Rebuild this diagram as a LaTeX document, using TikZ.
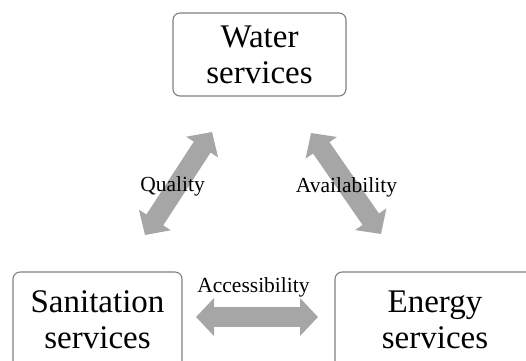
\documentclass[tikz,border=0pt]{standalone}
\usepackage{fontspec}
\setmainfont{Liberation Serif}
\usepackage{xcolor}
\usetikzlibrary{arrows.meta,positioning}
\definecolor{boxline}{HTML}{7F7F7F}
\definecolor{linkgray}{HTML}{A6A6A6}
\tikzset{
  service/.style={draw=boxline, line width=1.1pt, rounded corners=7pt, align=center,
    inner sep=0pt, font=\fontsize{33}{36}\selectfont},
  lbl/.style={font=\fontsize{21.5}{24}\selectfont, inner sep=1pt},
  link/.style={draw=linkgray, line width=20pt,
    {Triangle[length=18pt, width=37pt]}-{Triangle[length=18pt, width=37pt]}},
}
\begin{document}
\begin{tikzpicture}[x=1pt, y=-1pt]
  \useasboundingbox (0,0) rectangle (526,360);
  % ---- services ----
  \node[service, minimum width=173pt, minimum height=83pt] (water) at (259.5,54.5) {Water\\services};
  \node[service, minimum width=169pt, minimum height=96pt] (sani) at (97.5,320) {Sanitation\\services};
  \node[service, minimum width=200pt, minimum height=96pt] (energy) at (435,320) {Energy\\services};

  % ---- links ----
  \coordinate (q1) at (145,235);  \coordinate (q2) at (212,132);
  \coordinate (v1) at (311,133);  \coordinate (v2) at (381,234);
  \coordinate (c1) at (196,317);  \coordinate (c2) at (318,317);
  \foreach \a/\b in {q1/q2,v1/v2,c1/c2} \draw[link] (\a)--(\b);
  \node[lbl] (qual) at (172.5,186) {Quality};
  \node[lbl] (avail) at (346.5,187) {Availability};
  \node[lbl] (access) at (253.5,287) {Accessibility};
\end{tikzpicture}
\end{document}
